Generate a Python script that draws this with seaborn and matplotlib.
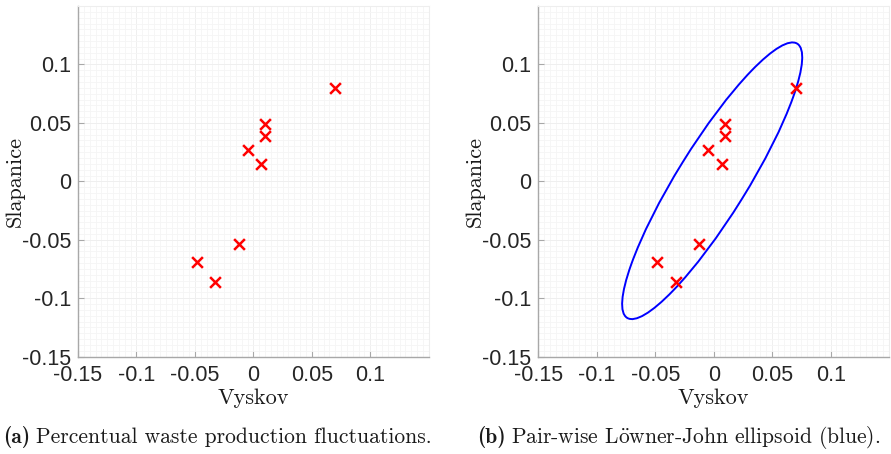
import numpy as np
import pandas as pd
import matplotlib
matplotlib.use("Agg")
import matplotlib.pyplot as plt
from matplotlib.patches import Ellipse
from matplotlib.ticker import MultipleLocator
import seaborn as sns

# Data
vyskov = [0.070, 0.010, 0.0095, -0.005, 0.0068, -0.0122, -0.0484, -0.0325]
slapanice = [0.080, 0.049, 0.039, 0.0268, 0.0145, -0.054, -0.069, -0.0858]

# Löwner-John ellipse parameters
ell_center = [-0.0013, 0.0005]
ell_semi_axes = [0.138, 0.0298]
ell_angle_deg = 58.2

tick_values = [-0.15, -0.1, -0.05, 0, 0.05, 0.1]
tick_labels = ["-0.15", "-0.1", "-0.05", "0", "0.05", "0.1"]
captions = [("(a)", "Percentual waste production fluctuations."),
            ("(b)", r"Pair-wise L$\ddot{\mathrm{o}}$wner-John ellipsoid (blue).")]

sns.set_theme(style="white")
plt.rcParams["axes.unicode_minus"] = False
plt.rcParams["font.family"] = ["Liberation Sans", "DejaVu Sans"]
plt.rcParams["mathtext.fontset"] = "cm"

df = pd.DataFrame({"Vyskov": vyskov, "Slapanice": slapanice})

fig = plt.figure(figsize=(8.91, 4.54), dpi=100)
lefts = [78 / 891, 538.3 / 891]
w = 350.8 / 891
b = (454 - 356.7) / 454
h = 350.7 / 454

axes = []
for i, l in enumerate(lefts):
    ax = fig.add_axes([l, b, w, h])
    axes.append(ax)
    ax.set_xlim(-0.15, 0.15)
    ax.set_ylim(-0.15, 0.15)
    ax.xaxis.set_minor_locator(MultipleLocator(0.005))
    ax.yaxis.set_minor_locator(MultipleLocator(0.005))
    ax.grid(which="minor", color="#f5f5f5", linewidth=0.6)
    ax.grid(which="major", color="#efefef", linewidth=0.7)
    ax.set_axisbelow(True)
    for s in ["top", "right"]:
        ax.spines[s].set_color("#eeeeee")
        ax.spines[s].set_linewidth(0.8)
    for s in ["left", "bottom"]:
        ax.spines[s].set_color("#a8a8a8")
        ax.spines[s].set_linewidth(1.0)

    if i == 1:
        e = Ellipse(xy=ell_center, width=2 * ell_semi_axes[0], height=2 * ell_semi_axes[1],
                    angle=ell_angle_deg, fill=False, edgecolor="#0000ff", linewidth=1.4, zorder=2)
        ax.add_patch(e)

    sns.scatterplot(data=df, x="Vyskov", y="Slapanice", ax=ax, marker="x",
                    color="#ff0000", s=60, linewidth=1.8, zorder=3)

    ax.set_xticks(tick_values)
    ax.set_xticklabels(tick_labels)
    ax.set_yticks(tick_values)
    ax.set_yticklabels(tick_labels)
    ax.tick_params(axis="both", which="major", direction="in", length=4, width=0.8,
                   color="#a8a8a8", labelsize=15.5, labelcolor="#262626",
                   bottom=True, left=True, top=False, right=False)
    ax.tick_params(axis="x", which="major", pad=6)
    ax.tick_params(axis="y", which="major", pad=5)
    ax.tick_params(axis="both", which="minor", length=0)
    ax.set_xlabel("Vyskov", family="cmr10", fontsize=16, labelpad=2, color="#1a1a1a")
    ax.set_ylabel("Slapanice", family="cmr10", fontsize=16, color="#1a1a1a")
    ax.yaxis.set_label_coords(-0.152, 0.5)

# captions
cap_x = [0.004, 0.536]
for (lab, txt), cx in zip(captions, cap_x):
    t1 = fig.text(cx, 0.025, lab, family="cmb10", fontsize=15.5, ha="left", va="baseline",
                  color="#1a1a1a")
    fig.canvas.draw()
    bb = t1.get_window_extent()
    x2 = (bb.x1 + 5) / fig.bbox.width
    fig.text(x2, 0.025, txt, family="cmr10", fontsize=15.5, ha="left", va="baseline",
             color="#1a1a1a")

fig.savefig("out.png", dpi=100)
